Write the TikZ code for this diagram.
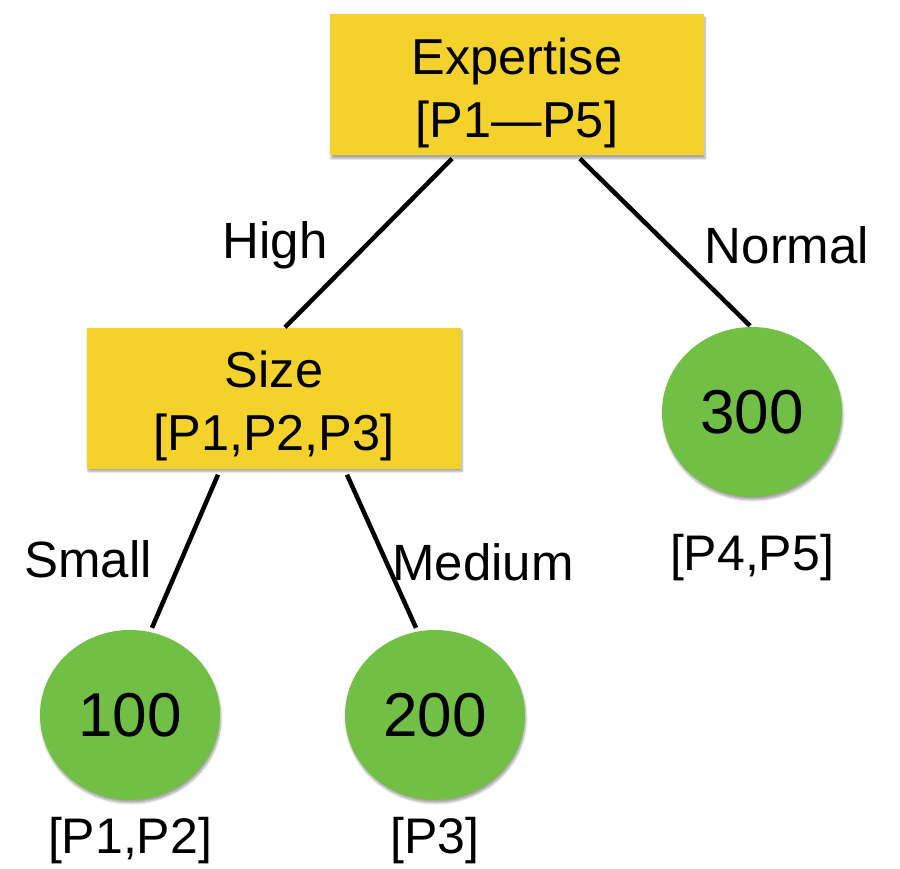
\documentclass[tikz,border=0pt]{standalone}
\usepackage{fontspec}
\setmainfont{Liberation Sans}
\usetikzlibrary{shadows.blur,shapes.geometric}
\definecolor{boxyellow}{HTML}{F4D22B}
\definecolor{leafgreen}{HTML}{71BF44}
\tikzset{
  splitbox/.style={rectangle, fill=boxyellow, inner sep=0pt,
    minimum width=374pt, minimum height=141pt,
    blur shadow={shadow xshift=1pt, shadow yshift=-3pt, shadow blur steps=6, shadow opacity=35}},
  boxtext/.style={font=\fontsize{50.5}{63}\selectfont, align=center,
    inner sep=0pt, yshift=-8pt},
  leaf/.style={ellipse, fill=leafgreen, inner sep=0pt,
    minimum width=180pt, minimum height=170pt,
    blur shadow={shadow xshift=1pt, shadow yshift=-3pt, shadow blur steps=6, shadow opacity=35},
    font=\fontsize{62}{64}\selectfont},
  edgelbl/.style={font=\fontsize{51}{56}\selectfont},
  setlbl/.style={font=\fontsize{50}{54}\selectfont},
  branch/.style={line width=4.5pt, black}
}
\begin{document}
\begin{tikzpicture}[x=1pt, y=-1pt]
  \useasboundingbox (0,0) rectangle (900,869);
  % split nodes
  \node[splitbox, label={[boxtext]center:Expertise\\{}[P1---P5]}] (expertise) at (517,85) {};
  \node[splitbox, label={[boxtext]center:Size\\{}[P1,P2,P3]}] (size) at (274,398) {};
  % leaves
  \node[leaf] (l300) at (752,412) {300};
  \node[leaf] (l100) at (130,715) {100};
  \node[leaf] (l200) at (435,715) {200};
  % record sets under leaves
  \node[setlbl] (s300) at (752,558) {[P4,P5]};
  \node[setlbl] (s100) at (130,841) {[P1,P2]};
  \node[setlbl] (s200) at (435,841) {[P3]};
  % branches
  \draw[branch] ([xshift=-65pt,yshift=-3pt]expertise.south) -- ([xshift=11pt]size.north);
  \draw[branch] ([xshift=63pt,yshift=-3pt]expertise.south) -- ([xshift=-2pt,yshift=1pt]l300.north);
  \draw[branch] ([xshift=-56pt,yshift=-6pt]size.south) -- ([xshift=22pt,yshift=2pt]l100.north);
  \draw[branch] ([xshift=73pt,yshift=-6pt]size.south) -- ([xshift=-19pt,yshift=2pt]l200.north);
  % branch labels
  \node[edgelbl] (hHigh) at (275,245) {High};
  \node[edgelbl] (hNormal) at (787,245) {Normal};
  \node[edgelbl] (hSmall) at (88,559) {Small};
  \node[edgelbl] (hMedium) at (483,562) {Medium};
\end{tikzpicture}
\end{document}
